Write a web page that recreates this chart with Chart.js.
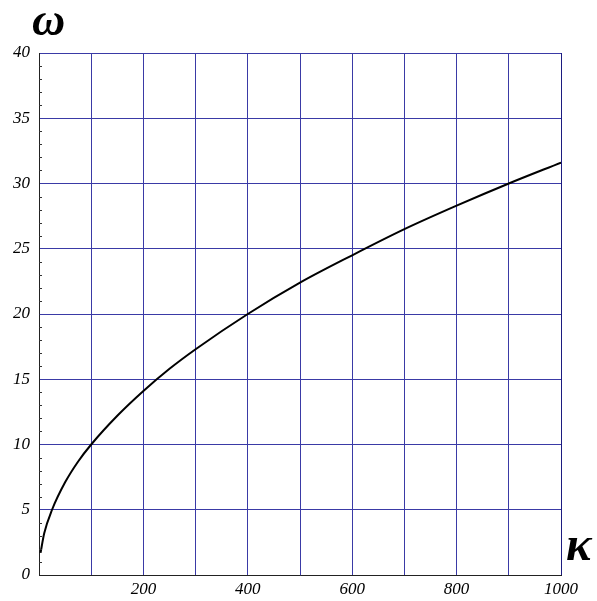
<!DOCTYPE html>
<html>
<head>
<meta charset="utf-8">
<script src="https://cdn.jsdelivr.net/npm/chart.js@4.4.1/dist/chart.umd.min.js"></script>
<style>
    html, body { margin: 0; padding: 0; background: #ffffff; }
    #chart-wrap { width: 597px; height: 601px; position: relative; }
</style>
</head>
<body>
<div id="chart-wrap"><canvas id="omega-chart"></canvas></div>
<script>
// values
const kappaValues = [3, 10, 25, 50, 75, 100, 150, 200, 250, 300, 400, 500, 600, 700, 800, 900, 1000];
const omegaValues = [1.7, 3.2, 5.0, 7.1, 8.7, 10.0, 12.2, 14.1, 15.8, 17.3, 20.0, 22.4, 24.5, 26.5, 28.3, 30.0, 31.6];
const xLabelTicks = [200, 400, 600, 800, 1000];
const yMinorTicks = [];
for (let v = 0; v <= 40; v++) { if (v % 5 !== 0) yMinorTicks.push(v); }

const gridBlue = '#3a3aa6';
const tickFont = { family: 'Liberation Serif', style: 'italic', size: 17 };

// small inside ticks on the left axis + the two axis symbols
const extrasPlugin = {
    id: 'extras',
    afterDraw: function(chart) {
        const ctx = chart.ctx;
        const area = chart.chartArea;
        const yScale = chart.scales.y;
        ctx.save();
        ctx.strokeStyle = '#333333';
        ctx.lineWidth = 1;
        yMinorTicks.forEach(function(v) {
            const py = Math.round(yScale.getPixelForValue(v)) + 0.5;
            ctx.beginPath();
            ctx.moveTo(area.left, py);
            ctx.lineTo(area.left + 3, py);
            ctx.stroke();
        });
        // right frame is darker in the original
        ctx.strokeStyle = '#1c1c80';
        ctx.beginPath();
        ctx.moveTo(Math.round(area.right) + 0.5, area.top);
        ctx.lineTo(Math.round(area.right) + 0.5, area.bottom);
        ctx.stroke();

        ctx.fillStyle = '#000000';
        ctx.textBaseline = 'alphabetic';
        ctx.textAlign = 'left';
        ctx.font = 'italic bold 46px "Liberation Serif"';
        ctx.fillText('ω', area.left - 7, area.top - 18);
        ctx.font = 'italic bold 48px "Liberation Serif"';
        ctx.fillText('κ', area.right + 5, area.bottom - 15);
        ctx.restore();
    }
};

new Chart(document.getElementById('omega-chart'), {
    type: 'line',
    data: {
        datasets: [
            {
                label: 'omega',
                data: kappaValues.map(function(k, i) { return { x: k, y: omegaValues[i] }; }),
                borderColor: '#000000',
                borderWidth: 2,
                pointRadius: 0,
                fill: false,
                cubicInterpolationMode: 'monotone'
            }
        ]
    },
    options: {
        responsive: true,
        maintainAspectRatio: false,
        animation: false,
        layout: { padding: { top: 53, right: 36, left: 0, bottom: 0 } },
        plugins: {
            legend: { display: false },
            tooltip: { enabled: false }
        },
        scales: {
            x: {
                type: 'linear',
                min: 0,
                max: 1000,
                afterFit: function(scale) { scale.height = 26; },
                border: { display: true, color: '#222222', width: 1 },
                grid: { color: gridBlue, lineWidth: 1, drawTicks: false },
                ticks: {
                    stepSize: 100,
                    autoSkip: false,
                    maxRotation: 0,
                    padding: 4,
                    color: '#000000',
                    font: tickFont,
                    callback: function(v) { return xLabelTicks.indexOf(v) >= 0 ? String(v) : ''; }
                }
            },
            y: {
                min: 0,
                max: 40,
                afterFit: function(scale) { scale.width = 39; },
                border: { display: true, color: '#222222', width: 1 },
                grid: { color: gridBlue, lineWidth: 1, drawTicks: false },
                ticks: {
                    stepSize: 5,
                    padding: 9,
                    color: '#000000',
                    font: tickFont
                }
            }
        }
    },
    plugins: [extrasPlugin]
});
</script>
</body>
</html>
